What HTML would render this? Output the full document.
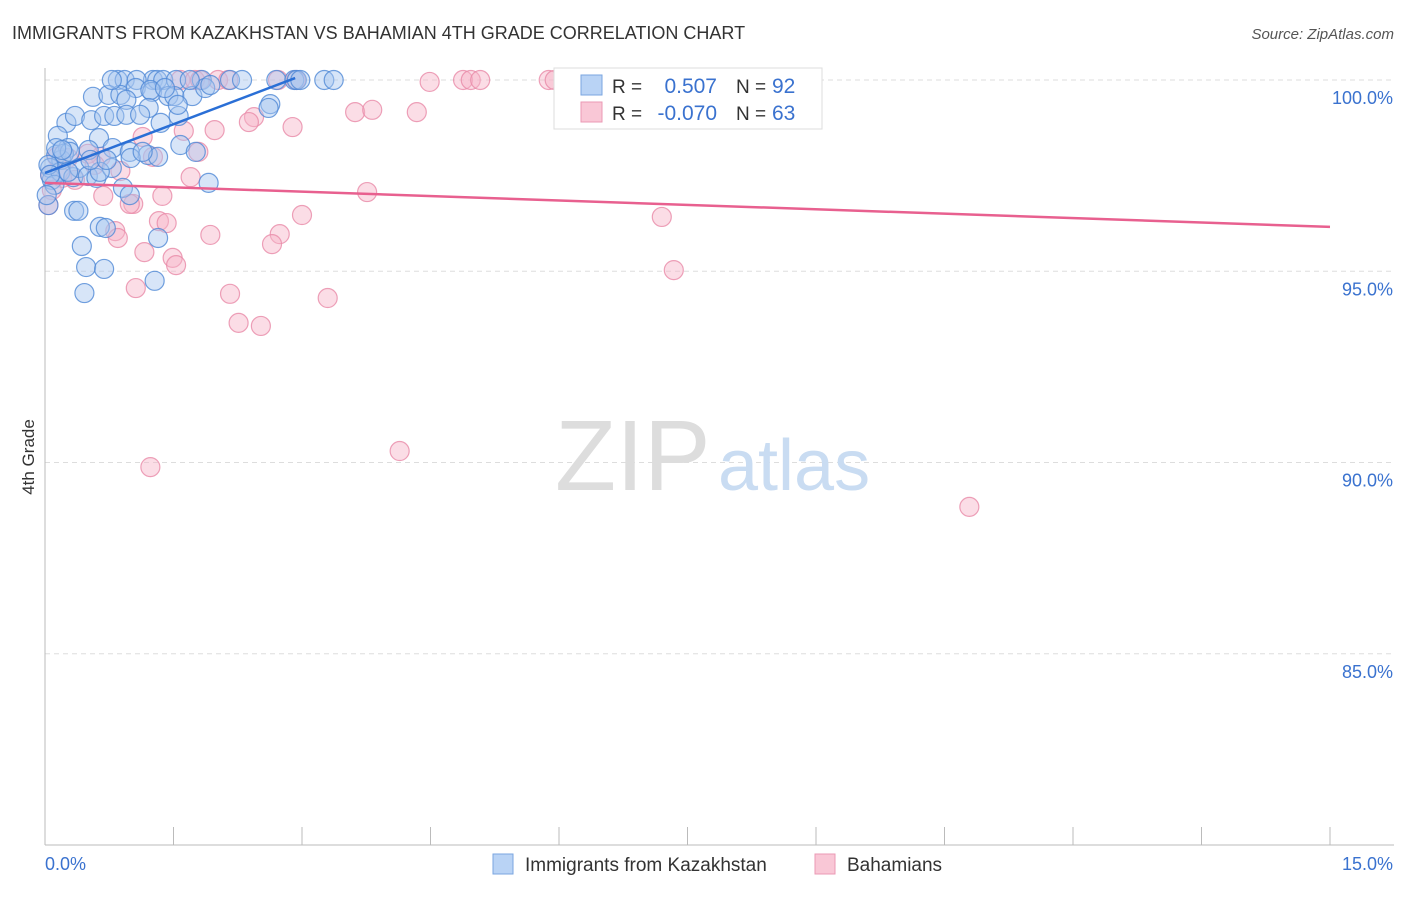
<!DOCTYPE html>
<html><head><meta charset="utf-8"><style>
body{margin:0;background:#fff;font-family:"Liberation Sans",sans-serif;}
svg text{font-family:"Liberation Sans",sans-serif;}
</style></head><body>
<svg id="chart" width="1406" height="892">
<text x="12" y="39" font-size="18" fill="#333">IMMIGRANTS FROM KAZAKHSTAN VS BAHAMIAN 4TH GRADE CORRELATION CHART</text>
<text x="1394" y="39" font-size="15" fill="#555" font-style="italic" text-anchor="end">Source: ZipAtlas.com</text>
<text x="34" y="457" font-size="17" fill="#333" text-anchor="middle" transform="rotate(-90 34 457)">4th Grade</text>
<g id="grid"></g>
<text x="555" y="490" font-size="100" fill="#ddd" font-family="Liberation Serif">ZIP</text>
<text x="718" y="490" font-size="72" fill="#c9dcf2">atlas</text>
<g id="pts"></g>
<g id="lines"></g>
<g>
<rect x="554" y="68" width="268" height="61" fill="#fff" stroke="#ddd"/>
<rect x="581" y="75" width="21" height="20" fill="#b9d3f5" stroke="#7aa6e0"/>
<rect x="581" y="102" width="21" height="20" fill="#f9c7d6" stroke="#eb9ab4"/>
<text x="612" y="93" font-size="19" fill="#333">R =</text>
<text x="717" y="93" font-size="21" fill="#3a72cf" text-anchor="end">0.507</text>
<text x="736" y="93" font-size="19" fill="#333">N =</text>
<text x="772" y="93" font-size="21" fill="#3a72cf">92</text>
<text x="612" y="120" font-size="19" fill="#333">R =</text>
<text x="717" y="120" font-size="21" fill="#3a72cf" text-anchor="end">-0.070</text>
<text x="736" y="120" font-size="19" fill="#333">N =</text>
<text x="772" y="120" font-size="21" fill="#3a72cf">63</text>
</g>
<g>
<rect x="493" y="854" width="20" height="20" fill="#b9d3f5" stroke="#7aa6e0"/>
<text x="525" y="871" font-size="19" fill="#333">Immigrants from Kazakhstan</text>
<rect x="815" y="854" width="20" height="20" fill="#f9c7d6" stroke="#eb9ab4"/>
<text x="847" y="871" font-size="19" fill="#333">Bahamians</text>
</g>
</svg>
<script>
const xTickLabels=["0.0%","15.0%"];
const yTicks=[100,95,90,85];
const yTickLabels=["100.0%","95.0%","90.0%","85.0%"];
const blueX=[0.85,0.93,1.26,1.31,1.38,1.53,1.83,2.16,2.30,2.70,2.91,2.94,3.26,3.37,1.07,0.56,0.74,0.88,1.06,1.25,1.44,1.51,1.72,1.87,1.23,1.40,0.95,0.25,0.35,0.54,0.69,0.81,0.95,1.21,1.56,1.35,2.63,2.61,0.63,0.15,0.13,0.27,0.51,0.79,0.99,1.20,1.58,1.76,1.32,1.00,0.19,0.06,0.08,0.18,0.33,0.40,0.50,0.60,0.78,1.14,1.91,0.91,0.99,0.04,0.34,0.39,0.64,0.71,1.32,0.43,0.48,0.69,0.46,1.28,0.11,0.02,0.04,0.22,0.29,0.13,1.55,0.64,0.53,0.27,1.11,1.93,1.69,0.78,0.20,0.06,2.98,0.72];
const blueY=[100,100,100,100,100,100,100,100,100,100,100,100,100,100,100,99.56,99.61,99.61,99.79,99.69,99.58,99.58,99.58,99.79,99.74,99.79,99.48,98.88,99.06,98.95,99.06,99.06,99.09,99.27,99.06,98.88,99.37,99.27,98.48,98.54,98.04,98.22,98.17,98.22,98.12,98.04,98.30,98.12,97.99,97.96,97.91,97.70,97.39,97.60,97.46,97.70,97.49,97.44,97.70,98.12,97.31,97.18,96.99,96.73,96.58,96.58,96.16,96.13,95.87,95.66,95.11,95.06,94.43,94.75,97.26,96.99,97.78,98.07,98.12,98.22,99.35,97.6,97.91,97.6,99.09,99.87,100,100,98.17,97.52,100,97.91];
const pinkX=[1.58,1.75,1.81,2.02,2.14,2.72,2.93,4.49,4.88,4.97,5.08,5.88,5.95,7.53,3.62,3.82,4.34,2.44,2.38,2.89,1.62,1.98,1.14,1.79,1.26,0.65,0.50,0.14,0.27,0.58,0.88,1.70,0.20,0.35,3.76,0.68,1.37,1.03,0.99,3.00,7.20,1.33,1.42,0.82,2.74,1.93,0.85,2.65,1.16,1.49,1.53,7.34,1.06,2.16,3.30,2.26,2.52,1.23,4.14,10.79,0.06,0.08,0.04];
const pinkY=[100,100,100,100,100,100,100,99.95,100,100,100,100,100,100,99.16,99.22,99.16,99.03,98.90,98.77,98.67,98.69,98.51,98.12,97.99,97.99,98.07,97.99,97.96,97.78,97.62,97.46,97.44,97.39,97.07,96.97,96.97,96.76,96.76,96.47,96.42,96.31,96.26,96.05,95.97,95.95,95.87,95.71,95.50,95.35,95.16,95.03,94.56,94.41,94.30,93.65,93.57,89.88,90.30,88.84,97.52,97.12,96.73];
const blueTrend=[[0,97.57],[2.92,100.05]];
const pinkTrend=[[0,97.31],[15,96.16]];
const X0=45,X1=1330,Y0=80,Y1=845,XMAX=15,YMIN=80,YMAX=100;
const sx=v=>X0+(v/XMAX)*(X1-X0);
const sy=v=>Y0+(YMAX-v)/(YMAX-YMIN)*(Y1-Y0);
const NS="http://www.w3.org/2000/svg";
function mk(t,a,p){const e=document.createElementNS(NS,t);for(const k in a)e.setAttribute(k,a[k]);p.appendChild(e);return e;}
const grid=document.getElementById('grid');
yTicks.forEach((v,i)=>{
  const l=mk('line',{x1:X0,x2:1394,y1:sy(v),y2:sy(v),stroke:'#ddd','stroke-dasharray':'5,4'},grid);
  
  
  const t=mk('text',{x:1393,y:sy(v)+24,'font-size':18,fill:'#3a72cf','text-anchor':'end'},grid);
  t.textContent=yTickLabels[i];
  
  
});
const ax=mk('line',{x1:X0,x2:X0,y1:68,y2:Y1,stroke:'#bbb'},grid);


const bx=mk('line',{x1:X0,x2:1394,y1:Y1,y2:Y1,stroke:'#bbb'},grid);


for(let i=0;i<=10;i++){const v=i*1.5;
  const tk=mk('line',{x1:sx(v),x2:sx(v),y1:Y1,y2:Y1-18,stroke:'#bbb'},grid);
  
  
}
[[0,'start',45],[15,'end',1393]].forEach((d,i)=>{
  const t=mk('text',{x:d[2],y:870,'font-size':18,fill:'#3a72cf','text-anchor':d[1]},grid);
  t.textContent=xTickLabels[i];
  
  
});
const pts=document.getElementById('pts');
function dots(xs,ys,fill,stroke,name){xs.forEach((x,i)=>{
  const c=mk('circle',{cx:sx(x),cy:sy(ys[i]),r:9.5,fill:fill,'fill-opacity':0.45,stroke:stroke,'stroke-opacity':0.8,'stroke-width':1.2},pts);
  
  
});}
dots(pinkX,pinkY,'#f6b3c8','#e889a8','point-bahamians');
dots(blueX,blueY,'#a6c6ef','#4f88d6','point-kazakhstan');
const lines=document.getElementById('lines');
const bl=mk('line',{x1:sx(blueTrend[0][0]),y1:sy(blueTrend[0][1]),x2:sx(blueTrend[1][0]),y2:sy(blueTrend[1][1]),stroke:'#2a6fd6','stroke-width':2.5},lines);


const pl=mk('line',{x1:sx(pinkTrend[0][0]),y1:sy(pinkTrend[0][1]),x2:sx(pinkTrend[1][0]),y2:sy(pinkTrend[1][1]),stroke:'#e8608f','stroke-width':2.5},lines);


</script>
</body></html>
